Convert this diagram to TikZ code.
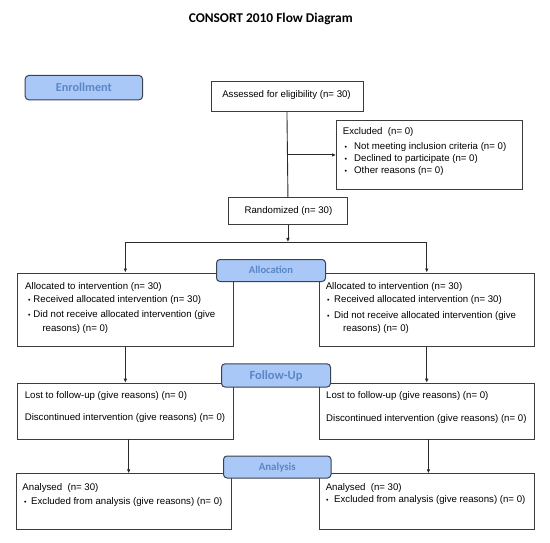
\documentclass[tikz,border=0pt]{standalone}
\usepackage{fontspec}
\setmainfont{Liberation Sans}
\newfontfamily\carlito{Carlito}
\usetikzlibrary{arrows.meta,calc}
\definecolor{lblfill}{HTML}{A9C8F7}
\definecolor{lbltext}{HTML}{5A86C6}
\definecolor{lbldraw}{HTML}{3A4250}
\definecolor{boxdraw}{HTML}{3C3C3C}
\definecolor{linecol}{HTML}{2A2A2A}
\newcommand{\bul}[1]{\makebox[#1][l]{\fontsize{7}{7}\selectfont •}}
\tikzset{
  box/.style={draw=boxdraw, line width=0.9pt, inner sep=0pt, anchor=north west, fill=white},
  lbl/.style={draw=lbldraw, fill=lblfill, line width=1pt, rounded corners=3.5pt, inner sep=0pt,
    anchor=north west, text=lbltext, text depth=0pt},
  txt/.style={inner sep=0pt, anchor=base west, font=\fontsize{9.65}{11}\selectfont},
  ctxt/.style={inner sep=0pt, anchor=base, font=\fontsize{9.65}{11}\selectfont},
  conn/.style={draw=linecol, line width=0.9pt},
  arr/.style={conn, -{Latex[length=4pt,width=3.6pt]}}
}
\begin{document}
\begin{tikzpicture}[x=1pt,y=-1pt]
\useasboundingbox (0,0) rectangle (550,543);
\fill[white] (0,0) rectangle (550,543);

\node[font=\carlito\bfseries\fontsize{13.4}{16}\selectfont, anchor=base, inner sep=0pt] (title) at (270.7,22.4) {CONSORT 2010 Flow Diagram};

% main boxes
\node[box, minimum width=152pt, minimum height=30pt] (assess) at (210.5,81) {};
\node[box, minimum width=186pt, minimum height=69pt] (excl) at (336,120) {};
\node[box, minimum width=119pt, minimum height=27pt] (rand) at (228,197) {};
\node[box, minimum width=215.2pt, minimum height=73.5pt] (alL) at (17.3,272.5) {};
\node[box, minimum width=215.4pt, minimum height=73.5pt] (alR) at (318.6,272.5) {};
\node[box, minimum width=215.2pt, minimum height=55.8pt] (fuL) at (17.3,382.7) {};
\node[box, minimum width=215.4pt, minimum height=55.8pt] (fuR) at (318.6,382.7) {};
\node[box, minimum width=215.1pt, minimum height=56pt] (anL) at (15.7,473.3) {};
\node[box, minimum width=215.4pt, minimum height=56pt] (anR) at (318.6,473.3) {};

% texts
\node[ctxt] (tassess) at (286.5,97.6) {Assessed for eligibility (n= 30)};
\node[txt] (tex1) at (342.7,135) {Excluded\ \ (n= 0)};
\node[txt] (tex2) at (344.5,149.3) {\bul{9.5pt}Not meeting inclusion criteria (n= 0)};
\node[txt] (tex3) at (344.5,162) {\bul{9.5pt}Declined to participate (n= 0)};
\node[txt] (tex4) at (344.5,174) {\bul{9.5pt}Other reasons (n= 0)};
\node[ctxt] (trand) at (288.5,214) {Randomized (n= 30)};

\node[txt] (tal1) at (25,289) {Allocated to intervention (n= 30)};
\node[txt] (tal2) at (27.8,302.3) {\bul{5.5pt}Received allocated intervention (n= 30)};
\node[txt] (tal3) at (27.8,317.3) {\bul{5.5pt}Did not receive allocated intervention (give};
\node[txt] (tal4) at (42.3,331) {reasons) (n= 0)};

\node[txt] (tar1) at (325.6,290) {Allocated to intervention (n= 30)};
\node[txt] (tar2) at (327,302.6) {\bul{7pt}Received allocated intervention (n= 30)};
\node[txt] (tar3) at (327,318) {\bul{7pt}Did not receive allocated intervention (give};
\node[txt] (tar4) at (343,331.6) {reasons) (n= 0)};

\node[txt] (tfl1) at (24.6,398.3) {Lost to follow-up (give reasons) (n= 0)};
\node[txt] (tfl2) at (24.6,420.8) {Discontinued intervention (give reasons) (n= 0)};
\node[txt] (tfr1) at (326,398.3) {Lost to follow-up (give reasons) (n= 0)};
\node[txt] (tfr2) at (326,421) {Discontinued intervention (give reasons) (n= 0)};

\node[txt] (tan1) at (22.3,490.6) {Analysed\ \ (n= 30)};
\node[txt] (tan2) at (23.8,504.3) {\bul{7.2pt}Excluded from analysis (give reasons) (n= 0)};
\node[txt] (tar5) at (325.6,490) {Analysed\ \ (n= 30)};
\node[txt] (tar6) at (326,502.6) {\bul{8pt}Excluded from analysis (give reasons) (n= 0)};

% connectors
\draw[conn] (assess.south) -- (rand.north);
\draw[arr] (rand.north |- excl.west) -- (excl.west);
\coordinate (split) at (rand.south |- 0,242);
\draw[arr] (rand.south) -- (split);
\draw[arr] (split) -| (alL.north);
\draw[arr] (split) -| (alR.north);
\draw[arr] (alL.south) -- (fuL.north);
\draw[arr] (alR.south) -- (fuR.north);
\draw[arr] ([xshift=3.3pt]fuL.south) -- ([xshift=3.3pt]fuL.south |- anL.north);
\draw[arr] ([xshift=1.7pt]fuR.south) -- ([xshift=1.7pt]fuR.south |- anR.north);

% stage labels
\node[lbl, minimum width=117.3pt, minimum height=24.3pt, text height=7.8pt,
  font=\carlito\bfseries\fontsize{12.2}{14}\selectfont] (enr) at (24.7,75) {Enrollment};
\node[lbl, minimum width=109pt, minimum height=22pt, text height=6.8pt,
  font=\carlito\bfseries\fontsize{10.5}{12}\selectfont] (alloc) at (216,259) {Allocation};
\node[lbl, minimum width=109pt, minimum height=23.2pt, text height=8pt,
  font=\carlito\bfseries\fontsize{12.5}{14}\selectfont] (fu) at (221,363.3) {Follow-Up};
\node[lbl, minimum width=107.5pt, minimum height=22pt, text height=7pt,
  font=\carlito\bfseries\fontsize{10.9}{12}\selectfont] (ana) at (223,455.5) {Analysis};
\end{tikzpicture}
\end{document}
